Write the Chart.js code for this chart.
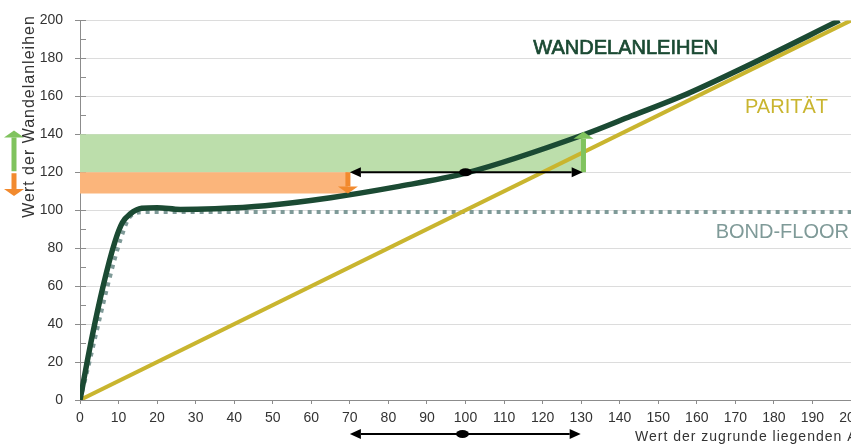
<!DOCTYPE html>
<html>
<head>
<meta charset="utf-8">
<script src="https://cdn.jsdelivr.net/npm/chart.js@4"></script>
<style>
  html, body { margin: 0; padding: 0; background: #fff; overflow: hidden; }
  #wrap { width: 900px; height: 444px; }
</style>
</head>
<body>
<div id="wrap"><canvas id="chart" width="900" height="444"></canvas></div>
<script>
// tick values
const xTickValues = [0, 10, 20, 30, 40, 50, 60, 70, 80, 90, 100, 110, 120, 130, 140, 150, 160, 170, 180, 190, 200];
const yTickValues = [0, 10, 20, 30, 40, 50, 60, 70, 80, 90, 100, 110, 120, 130, 140, 150, 160, 170, 180, 190, 200];
const yLabelValues = [0, 20, 40, 60, 80, 100, 120, 140, 160, 180, 200];

// Wandelanleihe (convertible bond value)
const convX = [0, 3, 6, 9, 11, 13, 16, 20, 26, 35, 48, 65, 82, 100, 131, 143, 156, 173, 197];
const convY = [0, 32, 60, 83, 93.5, 98, 101, 101.3, 100.4, 100.8, 102.4, 106.6, 112.3, 119.5, 140, 149.6, 160, 176, 200];

// Parität
const parityX = [0, 200];
const parityY = [0, 200];

// Bond-Floor
const floorX = [0, 12, 14, 17, 200];
const floorY = [0, 93, 98, 99, 99];

// bands: [xStart, xEnd, yLow, yHigh]
const greenBand = [0, 130.6, 120, 140];
const orangeBand = [0, 69.5, 108.8, 120];

// price range arrow: left end, centre, right end, level
const rangeArrow = [70, 100, 130.4, 120];

const toPoints = (xs, ys) => xs.map((x, i) => ({ x: x, y: ys[i] }));

const FONT = '"Liberation Sans", Arial, sans-serif';

const overlay = {
  id: 'overlay',
  beforeDatasetsDraw(chart) {
    const { ctx, chartArea: area, scales: { y } } = chart;
    ctx.save();
    ctx.strokeStyle = '#8c8c8c';
    ctx.lineWidth = 1;
    yTickValues.forEach(v => {
      const py = Math.round(y.getPixelForValue(v)) + 0.5;
      ctx.beginPath();
      ctx.moveTo(area.left, py);
      ctx.lineTo(area.left + 6, py);
      ctx.stroke();
    });
    ctx.restore();
  },
  afterDatasetsDraw(chart) {
    const { ctx, scales: { x, y } } = chart;
    ctx.save();

    // small orange / green block arrows
    blockArrow(ctx, x.getPixelForValue(orangeBand[1]), y.getPixelForValue(120), y.getPixelForValue(orangeBand[2]), '#f28a2e');
    blockArrow(ctx, x.getPixelForValue(greenBand[1]), y.getPixelForValue(120), y.getPixelForValue(141.3), '#80c35e');

    // left margin arrows
    blockArrow(ctx, 14, y.getPixelForValue(120) - 1, y.getPixelForValue(142), '#80c35e');
    blockArrow(ctx, 14, y.getPixelForValue(120) + 1, y.getPixelForValue(107.5), '#f28a2e');

    // black range arrows (in chart and below the axis)
    const x1 = x.getPixelForValue(rangeArrow[0]);
    const xm = x.getPixelForValue(rangeArrow[1]);
    const x2 = x.getPixelForValue(rangeArrow[2]);
    doubleArrow(ctx, x1, xm, x2, y.getPixelForValue(rangeArrow[3]));
    doubleArrow(ctx, x1, xm - 3, x2 - 2, 434);

    // series labels
    ctx.textBaseline = 'middle';
    ctx.font = '20px ' + FONT;
    ctx.textAlign = 'left';
    ctx.fillStyle = '#1b4a33';
    ctx.strokeStyle = '#1b4a33';
    ctx.lineWidth = 0.7;
    const wx = x.getPixelForValue(117.6), wy = y.getPixelForValue(185.3);
    ctx.fillText('WANDELANLEIHEN', wx, wy);
    ctx.strokeText('WANDELANLEIHEN', wx, wy);
    ctx.fillStyle = '#c9b52f';
    ctx.fillText('PARITÄT', x.getPixelForValue(172.5), y.getPixelForValue(154.3));
    ctx.fillStyle = '#7f9a98';
    ctx.textAlign = 'right';
    ctx.fillText('BOND-FLOOR', x.getPixelForValue(200) - 2, y.getPixelForValue(88.2));

    // axis titles
    ctx.fillStyle = '#333';
    ctx.textAlign = 'left';
    ctx.font = '14px ' + FONT;
    ctx.letterSpacing = '1px';
    ctx.fillText('Wert der zugrunde liegenden Aktie', 635, 437);

    ctx.translate(30, 116.5);
    ctx.rotate(-Math.PI / 2);
    ctx.textAlign = 'center';
    ctx.font = '16px ' + FONT;
    ctx.fillText('Wert der Wandelanleihen', 0, 0);
    ctx.restore();
  }
};

function blockArrow(ctx, cx, yFrom, yTo, color) {
  const dir = yTo < yFrom ? -1 : 1;
  const head = 7, half = 10, shaft = 2.5;
  const base = yTo - dir * head;
  ctx.fillStyle = color;
  ctx.fillRect(cx - shaft, Math.min(yFrom, base), shaft * 2, Math.abs(base - yFrom));
  ctx.beginPath();
  ctx.moveTo(cx - half, base);
  ctx.lineTo(cx + half, base);
  ctx.lineTo(cx, yTo);
  ctx.closePath();
  ctx.fill();
}

function doubleArrow(ctx, x1, xm, x2, py) {
  const len = 11, half = 5;
  ctx.strokeStyle = '#000';
  ctx.fillStyle = '#000';
  ctx.lineWidth = 2;
  ctx.beginPath();
  ctx.moveTo(x1 + len, py);
  ctx.lineTo(x2 - len, py);
  ctx.stroke();
  ctx.beginPath();
  ctx.moveTo(x1, py);
  ctx.lineTo(x1 + len, py - half);
  ctx.lineTo(x1 + len, py + half);
  ctx.closePath();
  ctx.fill();
  ctx.beginPath();
  ctx.moveTo(x2, py);
  ctx.lineTo(x2 - len, py - half);
  ctx.lineTo(x2 - len, py + half);
  ctx.closePath();
  ctx.fill();
  ctx.beginPath();
  ctx.ellipse(xm, py, 6.5, 4, 0, 0, Math.PI * 2);
  ctx.fill();
}

const chartData = {
  datasets: [
    {
      label: 'Wandelanleihen',
      data: toPoints(convX, convY),
      borderColor: '#1b4a33',
      borderWidth: 5.5,
      cubicInterpolationMode: 'monotone',
      pointRadius: 0,
      fill: false,
      order: 1,
    },
    {
      label: 'Parität',
      data: toPoints(parityX, parityY),
      borderColor: '#c9b52f',
      borderWidth: 4,
      pointRadius: 0,
      fill: false,
      order: 2,
    },
    {
      label: 'Bond-Floor',
      data: toPoints(floorX, floorY),
      borderColor: '#7f9a98',
      borderWidth: 4,
      borderDash: [4, 5],
      cubicInterpolationMode: 'monotone',
      pointRadius: 0,
      fill: false,
      order: 3,
    },
    {
      label: 'green band',
      data: toPoints([greenBand[0], greenBand[1]], [greenBand[3], greenBand[3]]),
      borderWidth: 0,
      borderColor: 'rgba(0,0,0,0)',
      backgroundColor: '#bcdeab',
      pointRadius: 0,
      fill: { value: greenBand[2] },
      order: 5,
    },
    {
      label: 'orange band',
      data: toPoints([orangeBand[0], orangeBand[1]], [orangeBand[3], orangeBand[3]]),
      borderWidth: 0,
      borderColor: 'rgba(0,0,0,0)',
      backgroundColor: '#fbb57b',
      pointRadius: 0,
      fill: { value: orangeBand[2] },
      order: 4,
    },
  ],
};

const chartConfig = {
  type: 'line',
  data: chartData,
  options: {
    responsive: false,
    animation: false,
    devicePixelRatio: 1,
    layout: { padding: { top: 19, right: 49, left: 0, bottom: 0 } },
    plugins: { legend: { display: false }, tooltip: { enabled: false } },
    scales: {
      x: {
        type: 'linear',
        min: 0,
        max: 200,
        afterBuildTicks: scale => { scale.ticks = xTickValues.map(v => ({ value: v })); },
        afterFit: scale => { scale.height = 44; },
        border: { color: '#8c8c8c', width: 1 },
        grid: { drawOnChartArea: false, drawTicks: true, tickLength: 4, tickColor: '#8c8c8c' },
        ticks: { autoSkip: false, maxRotation: 0, padding: 6, color: '#333', font: { family: FONT, size: 14 } },
      },
      y: {
        type: 'linear',
        min: 0,
        max: 200,
        afterBuildTicks: scale => { scale.ticks = yTickValues.map(v => ({ value: v })); },
        afterFit: scale => { scale.width = 80; },
        border: { color: '#8c8c8c', width: 1 },
        grid: {
          color: c => (c.tick && yLabelValues.includes(c.tick.value) ? '#dcdcdc' : 'rgba(0,0,0,0)'),
          tickColor: '#8c8c8c',
          tickLength: 5,
        },
        ticks: {
          padding: 12,
          color: '#333',
          font: { family: FONT, size: 14 },
          callback: v => (yLabelValues.includes(v) ? v : ''),
        },
      },
    },
  },
  plugins: [overlay],
};

const myChart = new Chart(document.getElementById('chart'), chartConfig);
</script>
</body>
</html>
